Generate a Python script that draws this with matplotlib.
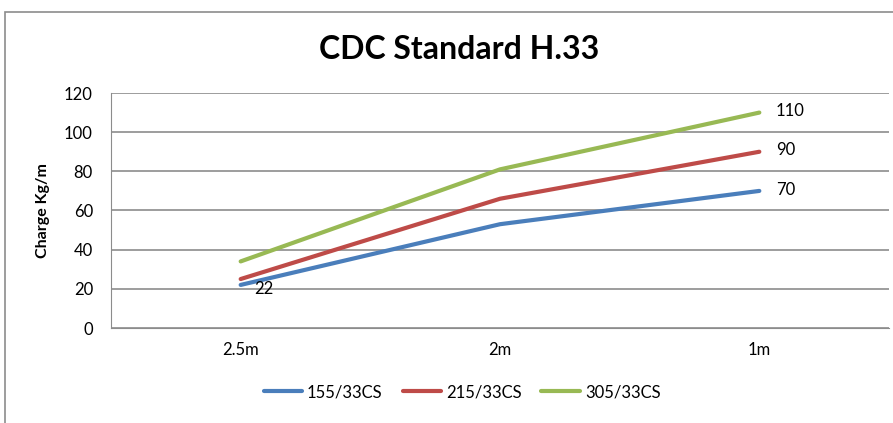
import matplotlib.pyplot as plt
from matplotlib.patches import Rectangle

categories = ["2.5m", "2m", "1m"]
series_names = ["155/33CS", "215/33CS", "305/33CS"]
values_155 = [22, 53, 70]
values_215 = [25, 66, 90]
values_305 = [34, 81, 110]
colors = ["#4a7ebb", "#be4b48", "#98b954"]

plt.rcParams["font.family"] = ["Lato", "DejaVu Sans"]

fig = plt.figure(figsize=(8.93, 4.23), dpi=100)
# outer chart frame (cropped on the right and bottom)
fig.patches.append(Rectangle((5 / 893, -0.1), 2, 1.1 - 12 / 423, transform=fig.transFigure,
                             fill=False, edgecolor="#8c8c8c", linewidth=1.2))

ax = fig.add_axes([111 / 893, 1 - 328 / 423, 778 / 893, 235 / 423])
x = range(len(categories))
all_values = [values_155, values_215, values_305]
for vals, name, c in zip(all_values, series_names, colors):
    ax.plot(x, vals, color=c, linewidth=3, label=name, solid_capstyle="round")

# data labels
ax.annotate(str(values_155[0]), (0, values_155[0]), xytext=(10, -3), textcoords="offset points",
            ha="left", va="center", fontsize=12)
for vals in all_values:
    ax.annotate(str(vals[-1]), (2, vals[-1]), xytext=(12, 1), textcoords="offset points",
                ha="left", va="center", fontsize=12)

ax.set_xlim(-0.5, 2.5)
ax.set_ylim(0, 120)
ax.set_yticks(range(0, 121, 20))
ax.set_xticks(list(x))
ax.set_xticklabels(categories)
ax.yaxis.grid(True, color="#8c8c8c", linewidth=1.2)
ax.set_axisbelow(True)
for s in ["top", "right"]:
    ax.spines[s].set_visible(False)
ax.spines["left"].set_color("#8c8c8c")
ax.spines["bottom"].set_color("#8c8c8c")
ax.tick_params(axis="both", length=0, labelsize=12, colors="black")
ax.tick_params(axis="y", pad=13)
ax.tick_params(axis="x", pad=10)
ax.set_ylabel("Charge Kg/m", fontsize=11.5, fontweight="bold", labelpad=10)

fig.text(459 / 893, 1 - 49 / 423, "CDC Standard H.33", ha="center", va="center",
         fontsize=23, fontweight="bold")

fig.legend(loc="center", bbox_to_anchor=(462 / 893, 1 - 392 / 423), ncol=3, frameon=False,
           fontsize=12, handlelength=2.3, columnspacing=1.2, handletextpad=0.3)

fig.savefig("out.png", dpi=100)
